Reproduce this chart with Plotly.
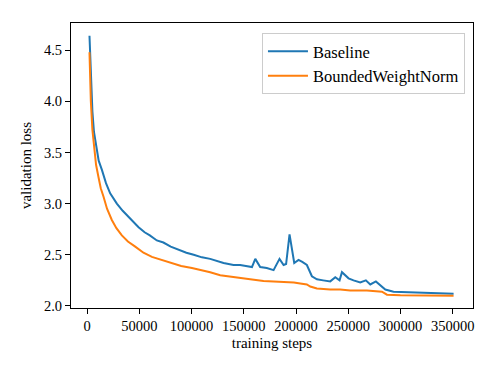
import plotly.graph_objects as go

# validation loss curves
steps_base = [2200, 3500, 5000, 6500, 9000, 11000, 14100, 18000, 22000, 28400,
              34000, 39600, 44000, 49200, 55000, 60000, 66700, 73000, 80000, 87500,
              95000, 102000, 109900, 117800, 124000, 130600, 140100, 146500, 152000, 157800,
              161000, 165700, 172000, 178500, 184200, 188100, 190500, 193800, 198300, 202400,
              206000, 210400, 215200, 220000, 226000, 232800, 237600, 241700, 244000, 250300,
              255100, 261500, 266900, 271100, 276500, 280700, 285500, 293400, 305000, 315800,
              330000, 350900]
loss_base = [4.64, 4.20, 3.90, 3.70, 3.52, 3.42, 3.33, 3.20, 3.10, 3.00,
             2.93, 2.87, 2.82, 2.77, 2.72, 2.69, 2.64, 2.62, 2.58, 2.55,
             2.52, 2.50, 2.475, 2.46, 2.44, 2.42, 2.40, 2.40, 2.39, 2.38,
             2.46, 2.38, 2.37, 2.35, 2.46, 2.40, 2.41, 2.70, 2.42, 2.45,
             2.43, 2.40, 2.29, 2.26, 2.25, 2.24, 2.28, 2.25, 2.33, 2.27,
             2.25, 2.23, 2.25, 2.21, 2.24, 2.20, 2.16, 2.14, 2.135, 2.13,
             2.125, 2.12]

steps_bwn = [2200, 3500, 5000, 6500, 8500, 10800, 13000, 15600, 19000, 23600,
             28000, 33200, 39000, 46000, 53900, 62000, 71000, 81100, 90000, 100300,
             110000, 117800, 127400, 140100, 156100, 168900, 180000, 191300, 198000, 204000,
             210400, 213600, 220000, 232800, 242300, 251900, 267900, 282300, 287100, 300000,
             315800, 350900]
loss_bwn = [4.48, 4.00, 3.72, 3.54, 3.38, 3.26, 3.15, 3.07, 2.95, 2.84,
            2.76, 2.69, 2.63, 2.58, 2.52, 2.48, 2.45, 2.42, 2.39, 2.37,
            2.35, 2.33, 2.30, 2.28, 2.26, 2.245, 2.24, 2.24, 2.23, 2.22,
            2.21, 2.19, 2.17, 2.16, 2.16, 2.15, 2.15, 2.14, 2.11, 2.105,
            2.105, 2.10]

x_ticks = [0, 50000, 100000, 150000, 200000, 250000, 300000, 350000]
y_ticks = [2.0, 2.5, 3.0, 3.5, 4.0, 4.5]

fig = go.Figure()
fig.add_trace(go.Scatter(x=steps_base, y=loss_base, mode='lines', name='Baseline',
                         line=dict(color='#1f77b4', width=2)))
fig.add_trace(go.Scatter(x=steps_bwn, y=loss_bwn, mode='lines', name='BoundedWeightNorm',
                         line=dict(color='#ff7f0e', width=2)))

axis_style = dict(showline=True, linecolor='black', linewidth=1, mirror=True,
                  ticks='outside', ticklen=5, tickcolor='black', showgrid=False,
                  zeroline=False, automargin=False, tickfont=dict(size=14.5))

fig.update_xaxes(range=[-15500, 369500], tickvals=x_ticks,
                 ticktext=[str(v) for v in x_ticks],
                 title=dict(text='training steps', standoff=4, font=dict(size=15)),
                 **axis_style)
fig.update_yaxes(range=[1.98, 4.765], tickvals=y_ticks,
                 ticktext=['%.1f' % v for v in y_ticks],
                 title=dict(text='validation loss', standoff=8, font=dict(size=15)),
                 **axis_style)

# the page body adds an 8px margin, so the figure is 8px smaller than the window
fig.update_layout(
    width=490, height=366,
    margin=dict(l=63, r=25, t=15, b=66),
    plot_bgcolor='white', paper_bgcolor='white',
    font=dict(family='Liberation Serif', size=14.5, color='black'),
    legend=dict(x=0.98, y=0.965, xanchor='right', yanchor='top',
                bordercolor='#cccccc', borderwidth=1, bgcolor='white',
                itemwidth=40, font=dict(size=16.5)),
)

fig.write_html("out.html")
